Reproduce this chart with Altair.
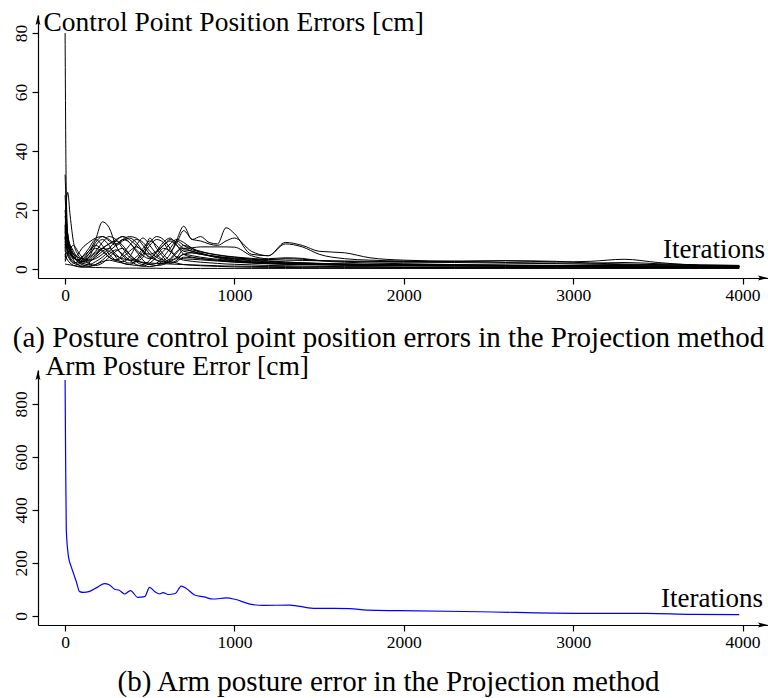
import altair as alt
import pandas as pd

W, H = 768, 698
FONT = "Liberation Serif"

# Iteration grid shared by every control point series
ITER = [0, 6, 15, 30, 50, 75, 100,
        140, 180, 220, 260, 300,
        340, 380, 420, 460, 500,
        540, 580, 620, 660, 700,
        750, 800, 850, 900, 950, 1000,
        1100, 1200, 1300, 1400, 1500,
        1650, 1800, 2000,
        2300, 2600, 2900, 3100, 3300,
        3500, 3750, 3980]

# Position error of each posture control point [cm]
CP01 = [80, 30, 12, 6, 4, 3, 2.5, 3.5, 5.5, 7, 6, 4.5, 3.5, 3, 2.6, 2.3, 2, 1.9, 1.8, 1.7, 1.6, 1.5,
        1.4, 1.3, 1.2, 1.1, 1.0, 1.0, 0.9, 0.8, 0.8, 0.7, 0.7, 0.6, 0.6, 0.5, 0.5, 0.5, 0.4, 0.4, 0.4, 0.4, 0.4, 0.4]
CP02 = [32, 22, 10, 5, 3.5, 5, 7, 9, 10.5, 11, 9.5, 8, 9.5, 10.5, 9, 6, 4, 5.5, 8, 9.5, 8, 6,
        5.5, 5, 4.6, 4.2, 3.8, 3.5, 3, 2.6, 2.3, 2.1, 1.9, 1.7, 1.6, 1.5, 1.3, 1.2, 1.1, 1.0, 1.0, 0.9, 0.9, 0.8]
CP03 = [12, 22, 26, 18, 9, 5, 3.5, 6, 10, 16, 14, 8, 4.5, 3, 4, 7, 9.5, 8, 5, 3, 4, 6.5,
        6, 5.2, 4.5, 4, 3.6, 3.3, 2.8, 2.4, 2.1, 1.9, 1.8, 1.6, 1.5, 1.4, 1.3, 1.2, 1.1, 1.1, 1.0, 1.0, 0.9, 0.9]
CP04 = [18, 14, 9, 6, 4, 3, 4, 6, 8, 6.5, 4, 3, 5, 8, 10, 9, 6, 4, 3, 5, 10, 14.5,
        10, 11, 9, 8.5, 14, 12, 5, 4.5, 9, 8, 6, 5.5, 3.8, 3, 2.6, 2.2, 2, 2, 2.2, 1.8, 1.4, 1.2]
CP05 = [9, 12, 10, 7, 5, 4, 3, 4, 6, 9, 11, 10, 7, 4, 3, 5, 8, 10, 9, 6, 9, 13,
        10, 9.5, 8.5, 8, 9.5, 10.5, 6, 4.5, 8.5, 7.5, 5, 3.5, 3, 2.7, 2.5, 2.8, 2.6, 2, 1.7, 1.5, 1.2, 1.0]
CP06 = [6, 9, 8, 6, 4, 3, 2.5, 3, 5, 7, 8.5, 10, 11, 10, 8, 6, 5, 6, 8, 10, 9, 7,
        7.2, 7.5, 7.5, 7.5, 7.5, 7.4, 4.5, 3.5, 3.8, 3.6, 2.8, 2.3, 2, 1.8, 1.5, 1.3, 1.2, 1.1, 1.0, 0.9, 0.8, 0.8]
CP07 = [4, 7, 9, 8, 6, 3.5, 2, 1.5, 2.5, 4, 6, 8, 10, 11, 10.5, 8, 5, 3, 2, 3, 5.5, 8,
        7, 5.5, 4.5, 3.8, 3.2, 2.8, 2.2, 1.8, 1.6, 1.5, 1.4, 1.3, 1.2, 1.1, 1.0, 0.9, 0.9, 0.8, 0.8, 0.7, 0.7, 0.6]
CP08 = [10, 16, 12, 7, 4, 2.5, 2, 2.5, 4, 6, 7, 5, 3, 2, 2.5, 4, 10.5, 7, 4, 2, 3, 5,
        4.5, 4, 3.6, 3.3, 3, 2.8, 2.4, 2.1, 1.9, 1.7, 1.6, 1.4, 1.3, 1.2, 1.1, 1.0, 1.0, 0.9, 0.9, 0.8, 0.8, 0.7]
CP09 = [3, 5, 6, 5, 4, 3, 2.5, 4, 8, 10, 8, 4, 2, 1.5, 3, 6, 9, 11, 10, 7, 4, 5,
        5.5, 5, 4.5, 4, 3.5, 3, 2.5, 2.1, 1.8, 1.6, 1.5, 1.4, 1.3, 1.3, 1.2, 1.1, 1.0, 1.0, 0.9, 0.9, 0.8, 0.8]
CP10 = [20, 15, 10, 6, 3, 1.5, 1, 2, 4.5, 7, 8.5, 9.5, 8, 5, 2.5, 1.5, 3, 6, 9, 10.5, 8, 5,
        4, 3.6, 3.2, 2.9, 2.6, 2.4, 2.1, 1.9, 1.7, 1.6, 1.5, 1.4, 1.4, 1.3, 1.2, 1.2, 1.1, 1.0, 1.0, 0.9, 0.9, 0.8]
CP11 = [1.7, 1.6, 1.5, 1.4, 1.2, 1.0, 0.8, 0.6, 0.5, 0.45, 0.4, 0.35, 0.3, 0.3, 0.3, 0.25, 0.25, 0.25, 0.2, 0.2, 0.2, 0.2,
        0.2, 0.2, 0.2, 0.2, 0.2, 0.2, 0.2, 0.2, 0.2, 0.2, 0.2, 0.2, 0.2, 0.2, 0.2, 0.2, 0.2, 0.2, 0.2, 0.2, 0.2, 0.2]
CP12 = [5, 4, 3, 2, 1.2, 0.8, 0.6, 0.8, 1.5, 2.5, 3, 2.5, 2, 1.5, 1.2, 1, 0.8, 1.2, 2, 2.5, 2, 1.5,
        1.3, 1.1, 1, 0.9, 0.8, 0.7, 0.6, 0.55, 0.5, 0.45, 0.4, 0.4, 0.35, 0.35, 0.3, 0.3, 0.3, 0.3, 0.3, 0.3, 0.3, 0.3]
CP13 = [8, 11, 7, 4, 2.5, 2, 3, 5, 7, 6, 4, 3, 4, 6, 7.5, 6, 4, 3, 2.5, 3.5, 6, 7,
        6, 5.2, 4.6, 4.2, 3.9, 3.7, 3.4, 3.2, 3.0, 2.9, 2.8, 2.7, 2.6, 2.5, 2.7, 2.8, 2.4, 2.6, 3.3, 2.2, 1.2, 0.9]
CP14 = [15, 10, 6, 3.5, 2, 1.5, 2.5, 5, 9, 11, 10, 8.5, 10, 9, 6, 3, 1.5, 2, 4, 7, 9.5, 8,
        6.5, 5.8, 5.2, 4.7, 4.3, 4, 3.3, 2.8, 2.4, 2.1, 1.9, 1.7, 1.5, 1.4, 1.2, 1.1, 1.0, 0.9, 0.9, 0.8, 0.8, 0.7]
CP15 = [7, 10, 8, 6, 5, 4, 3.5, 3, 3.5, 5, 7, 9.5, 11, 9, 6.5, 4.5, 3.5, 4.5, 7, 6, 4, 3.5,
        3.3, 3.1, 2.9, 2.7, 2.5, 2.3, 2.0, 1.8, 1.7, 1.6, 1.5, 1.4, 1.3, 1.3, 1.2, 1.2, 1.1, 1.1, 1.0, 1.0, 0.9, 0.9]
CP16 = [25, 18, 12, 8, 5, 2.5, 1.5, 1, 1.5, 3, 5, 6.5, 5, 3, 1.5, 1, 2, 4, 6, 8.5, 10, 9,
        7, 6, 5.3, 4.8, 4.4, 4.1, 3.6, 3.2, 3.5, 3.3, 2.9, 2.6, 2.4, 2.3, 2.2, 2.0, 1.8, 1.6, 1.5, 1.4, 1.3, 1.2]
CP17 = [2.5, 3.5, 5, 7, 8, 6, 4, 2, 1.2, 2, 4, 6, 7, 5, 3, 2, 1.5, 1.2, 1.5, 2.5, 3.5, 3,
        2.6, 2.3, 2.1, 1.9, 1.7, 1.6, 1.4, 1.2, 1.1, 1.0, 0.9, 0.8, 0.8, 0.7, 0.7, 0.6, 0.6, 0.6, 0.5, 0.5, 0.5, 0.5]
CP18 = [11, 8, 5, 3, 2, 2.5, 4, 7, 10, 8, 5, 3, 2.5, 4, 8, 10.5, 8, 5, 3, 2, 2.5, 4,
        3.8, 3.5, 3.2, 3, 2.8, 2.6, 2.2, 2.0, 1.8, 1.7, 1.6, 1.6, 1.5, 1.5, 1.4, 1.3, 1.2, 1.1, 1.0, 1.0, 1.0, 0.9]

CONTROL_POINTS = [CP01, CP02, CP03, CP04, CP05, CP06, CP07, CP08, CP09,
                  CP10, CP11, CP12, CP13, CP14, CP15, CP16, CP17, CP18]

# Arm posture error [cm]
ARM_ITER = [0, 3, 7, 20, 36, 50, 66, 86, 110, 145,
            190, 233, 260, 292, 320, 351, 386, 430, 470, 499,
            529, 559, 578, 608, 651, 686, 716, 765, 820, 874,
            953, 1002, 1091, 1170, 1327, 1465, 1682, 1780, 1977, 2448,
            3039, 3433, 3700, 3980]
ARM_ERR = [890, 600, 325, 224, 186, 160, 130, 92, 89, 93,
           108, 122, 118, 101, 97, 83, 96, 70, 73, 108,
           92, 83, 88, 81, 85, 113, 104, 79, 72, 64,
           68, 63, 45, 40, 41, 29, 28, 22, 20, 16,
           10, 10, 6, 5]

rows = []
for k, series in enumerate(CONTROL_POINTS, start=1):
    for it, v in zip(ITER, series):
        rows.append({"point": f"cp{k:02d}", "iter": it, "err": v})
df_a = pd.DataFrame(rows)
df_b = pd.DataFrame({"iter": ARM_ITER, "err": ARM_ERR})

X_DOMAIN = [-160, 4150]
X_RANGE = [38, 768]
YA_DOMAIN, YA_RANGE = [-3.05, 86.1], [278, 15]
YB_DOMAIN, YB_RANGE = [-34, 928], [625, 370]

ARROW_RIGHT = "M0,0L-1,-0.24L-0.82,0L-1,0.24Z"
ARROW_UP = "M0,0L-0.24,1L0,0.82L0.24,1Z"

axis_common = dict(
    grid=False, domainColor="black", tickColor="black", labelColor="black",
    domainWidth=1.2, tickWidth=1.2, tickSize=6,
    labelFont=FONT, labelFontSize=17.5, titleFont=FONT, titleColor="black",
    titleFontWeight="normal", titleBaseline="alphabetic",
)


def x_enc(axis_y, caption, caption_y):
    return alt.X(
        "iter:Q",
        scale=alt.Scale(domain=X_DOMAIN, range=X_RANGE, nice=False, zero=False),
        axis=alt.Axis(
            orient="bottom", offset=axis_y - H, values=[0, 1000, 2000, 3000, 4000],
            format="d", labelPadding=2, title=caption, titleFontSize=29,
            titleX=388, titleY=caption_y, titleAlign="center",
            **axis_common,
        ),
    )


def y_enc(domain, rng, ticks, title, title_x, title_y):
    return alt.Y(
        "err:Q",
        scale=alt.Scale(domain=domain, range=rng, nice=False, zero=False),
        axis=alt.Axis(
            orient="left", offset=-38, values=ticks, format="d",
            labelAngle=270, labelAlign="center", labelBaseline="bottom", labelPadding=2,
            title=title, titleAngle=0, titleAlign="left", titleFontSize=27.5,
            titleX=title_x, titleY=title_y,
            **axis_common,
        ),
    )


def panel(line_chart, x, y, y_domain, x_label_err, label_dx):
    lines = line_chart.encode(x=x, y=y)
    x_arrow = alt.Chart(pd.DataFrame({"iter": [X_DOMAIN[1]], "err": [y_domain[0]]})).mark_point(
        shape=ARROW_RIGHT, size=400, filled=True, color="black", opacity=1, strokeWidth=0
    ).encode(x=x, y=y)
    y_arrow = alt.Chart(pd.DataFrame({"iter": [X_DOMAIN[0]], "err": [y_domain[1]]})).mark_point(
        shape=ARROW_UP, size=400, filled=True, color="black", opacity=1, strokeWidth=0
    ).encode(x=x, y=y)
    label = alt.Chart(pd.DataFrame({"iter": [X_DOMAIN[1]], "err": [x_label_err], "txt": ["Iterations"]})).mark_text(
        font=FONT, fontSize=27, align="right", baseline="alphabetic", color="black", dx=label_dx
    ).encode(x=x, y=y, text="txt:N")
    return alt.layer(lines, x_arrow, y_arrow, label)


xa = x_enc(278, "(a) Posture control point position errors in the Projection method", 68)
ya = y_enc(YA_DOMAIN, YA_RANGE, [0, 20, 40, 60, 80], "Control Point Position Errors [cm]", 5, 30)
lines_a = (alt.Chart(df_a)
           .mark_line(color="black", strokeWidth=1, interpolate="monotone")
           .encode(detail="point:N"))
panel_a = panel(lines_a, xa, ya, YA_DOMAIN, 3.73, -3)

xb = x_enc(625, "(b) Arm posture error in the Projection method", 65)
yb = y_enc(YB_DOMAIN, YB_RANGE, [0, 200, 400, 600, 800], "Arm Posture Error [cm]", 7, 374)
line_b = alt.Chart(df_b).mark_line(color="#0000ff", strokeWidth=1.2, interpolate="monotone")
panel_b = panel(line_b, xb, yb, YB_DOMAIN, 35, -5)

chart = (
    alt.layer(panel_a, panel_b)
    .resolve_scale(x="independent", y="independent")
    .resolve_axis(x="independent", y="independent")
    .properties(width=W, height=H, padding=0, autosize=alt.AutoSizeParams(type="none"),
                background="white")
    .configure_view(stroke=None)
)

chart.save("out.html", embed_options={"renderer": "svg", "actions": False})
